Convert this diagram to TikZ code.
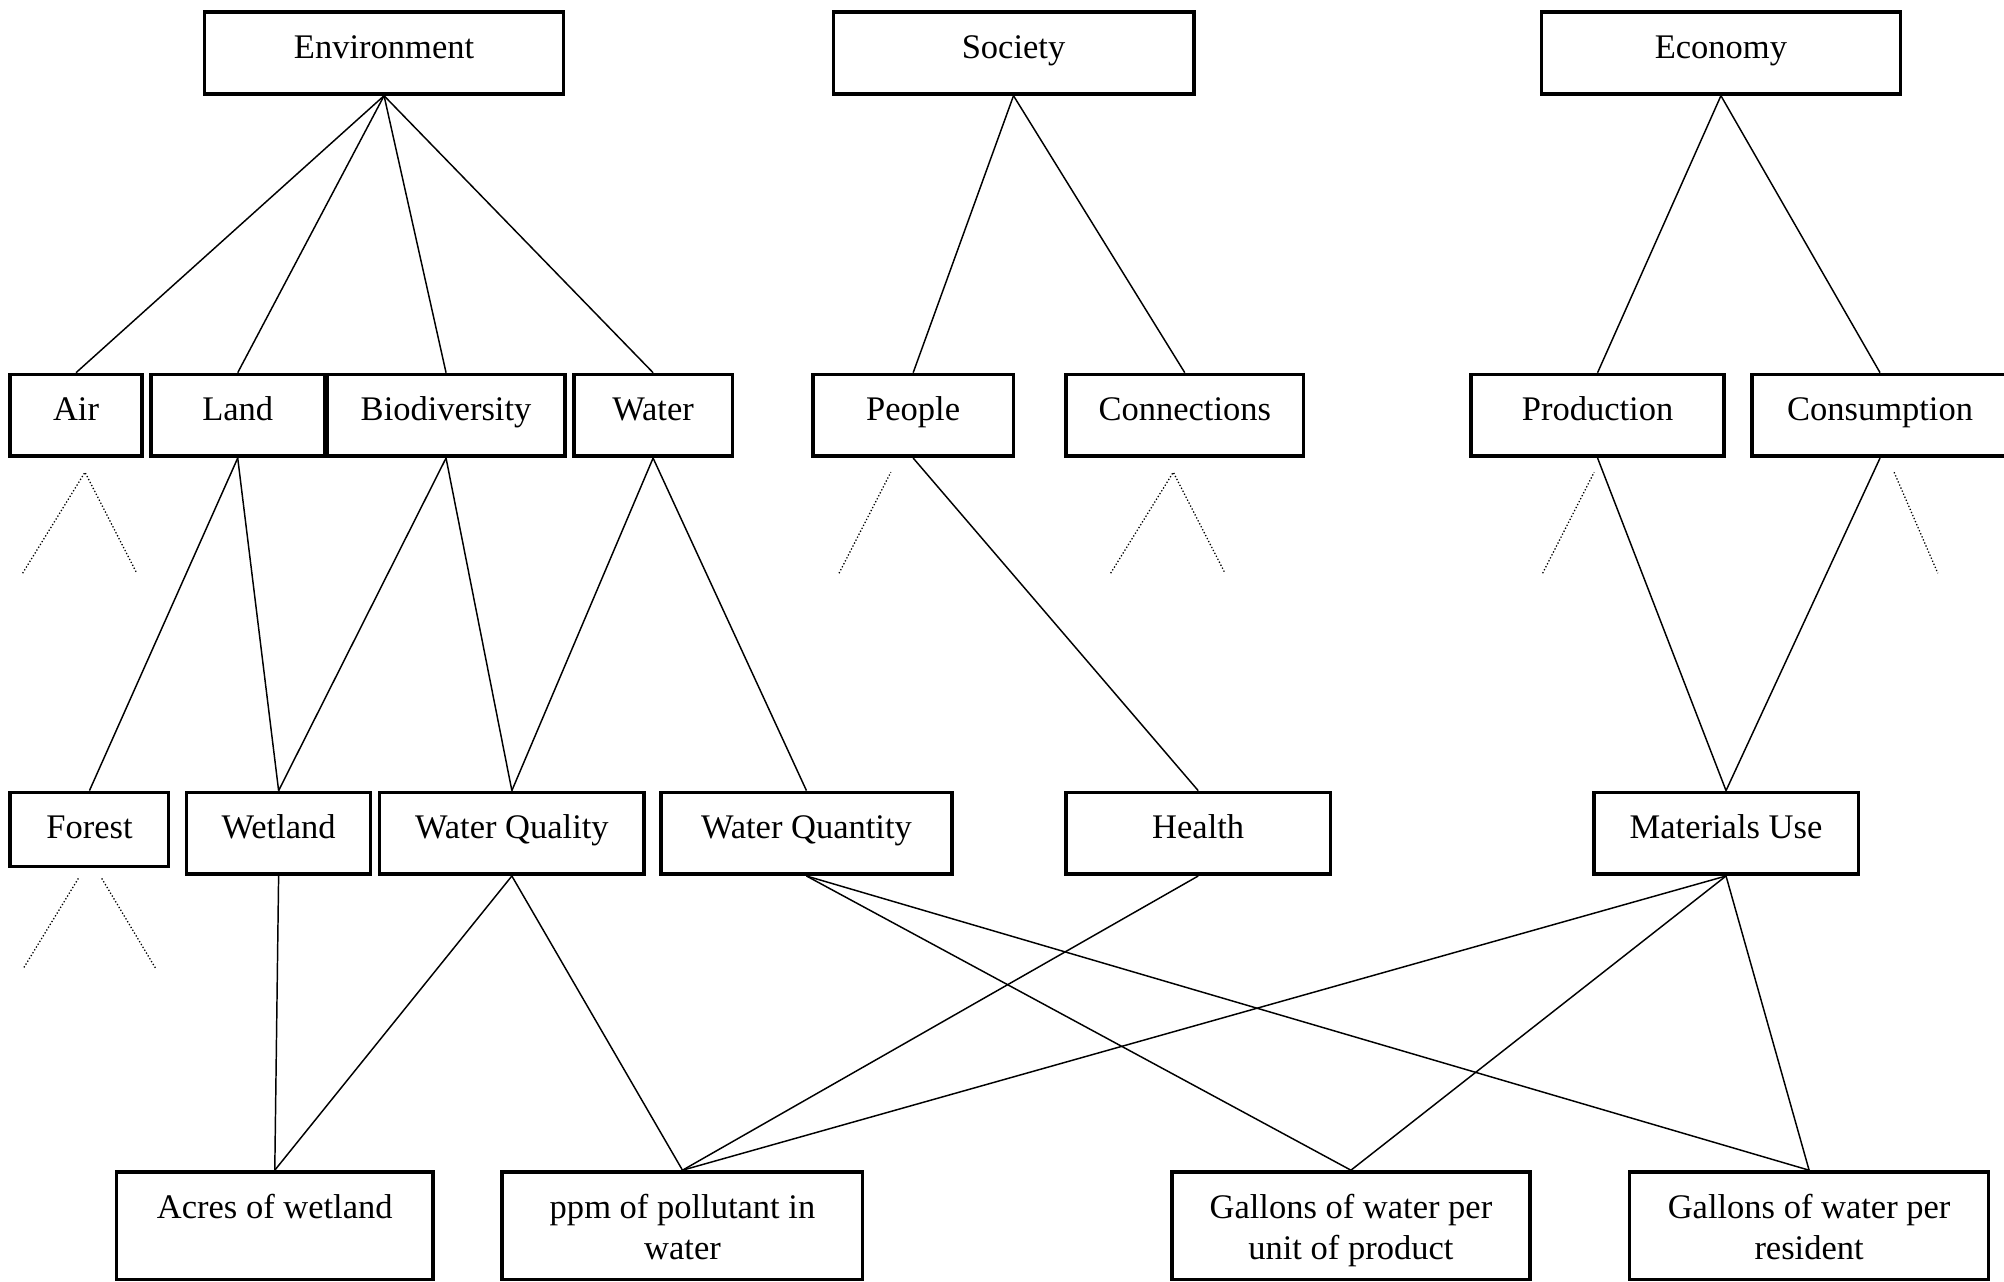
\documentclass[tikz,border=0pt]{standalone}
\usepackage{fontspec}
\setmainfont{Liberation Serif}
\begin{document}
\begin{tikzpicture}[x=1pt,y=-1pt]
\tikzset{
  box/.style={draw, line width=2.8pt, inner sep=0pt, minimum height=64pt,
              text height=18pt, text depth=10pt,
              font=\fontsize{27}{32}\selectfont},
  leafbox/.style={draw, line width=2.8pt, inner sep=0pt, minimum height=84pt},
  leaftext/.style={anchor=base, inner sep=0pt, font=\fontsize{27}{32}\selectfont},
  link/.style={line width=1.15pt},
  hint/.style={line width=1pt, dash pattern=on 1pt off 1.6pt},
}
\useasboundingbox (0,0) rectangle (1568,1003);

% dimensions
\node[box, minimum width=281pt] (env) at (300.5,41.5) {Environment};
\node[box, minimum width=282pt] (soc) at (793,41.5) {Society};
\node[box, minimum width=281pt] (eco) at (1346.5,41.5) {Economy};

% themes
\node[box, minimum width=103pt] (air)    at (59.5,325) {Air};
\node[box, minimum width=136pt] (land)   at (186,325) {Land};
\node[box, minimum width=186pt] (bio)    at (349,325) {Biodiversity};
\node[box, minimum width=124pt] (water)  at (511,325) {Water};
\node[box, minimum width=157pt] (people) at (714.5,325) {People};
\node[box, minimum width=186pt] (conn)   at (927,325) {Connections};
\node[box, minimum width=198pt] (prod)   at (1250,325) {Production};
\node[box, minimum width=200pt] (cons)   at (1471,325) {Consumption};

% issues
\node[box, minimum width=124pt, minimum height=58pt, text depth=4pt] (forest) at (70,649) {Forest};
\node[box, minimum width=144pt] (wetland) at (218,652) {Wetland};
\node[box, minimum width=207pt] (wqual)   at (400.5,652) {Water Quality};
\node[box, minimum width=228pt] (wquant)  at (631,652) {Water Quantity};
\node[box, minimum width=207pt] (health)  at (937.5,652) {Health};
\node[box, minimum width=207pt] (mat)     at (1350.5,652) {Materials Use};

% indicators
\node[leafbox, minimum width=248pt] (acres) at (215,959) {};
\node[leafbox, minimum width=282pt] (ppm)   at (534,959) {};
\node[leafbox, minimum width=280pt] (gprod) at (1057,959) {};
\node[leafbox, minimum width=281pt] (gres)  at (1415.5,959) {};
\node[leaftext] (acres-t) at (215,953.5) {Acres of wetland};
\node[leaftext] (ppm-t)   at (534,953.5) {\begin{tabular}[t]{@{}c@{}}ppm of pollutant in\\water\end{tabular}};
\node[leaftext] (gprod-t) at (1057,953.5) {\begin{tabular}[t]{@{}c@{}}Gallons of water per\\unit of product\end{tabular}};
\node[leaftext] (gres-t)  at (1415.5,953.5) {\begin{tabular}[t]{@{}c@{}}Gallons of water per\\resident\end{tabular}};

% links: dimensions to themes
\draw[link] (env.south) -- (air.north);
\draw[link] (env.south) -- (land.north);
\draw[link] (env.south) -- (bio.north);
\draw[link] (env.south) -- (water.north);
\draw[link] (soc.south) -- (people.north);
\draw[link] (soc.south) -- (conn.north);
\draw[link] (eco.south) -- (prod.north);
\draw[link] (eco.south) -- (cons.north);

% links: themes to issues
\draw[link] (land.south) -- (forest.north);
\draw[link] (land.south) -- (wetland.north);
\draw[link] (bio.south) -- (wetland.north);
\draw[link] (bio.south) -- (wqual.north);
\draw[link] (water.south) -- (wqual.north);
\draw[link] (water.south) -- (wquant.north);
\draw[link] (people.south) -- (health.north);
\draw[link] (prod.south) -- (mat.north);
\draw[link] (cons.south) -- (mat.north);

% links: issues to indicators
\draw[link] (wetland.south) -- (acres.north);
\draw[link] (wqual.south) -- (acres.north);
\draw[link] (wqual.south) -- (ppm.north);
\draw[link] (wquant.south) -- (gprod.north);
\draw[link] (wquant.south) -- (gres.north);
\draw[link] (health.south) -- (ppm.north);
\draw[link] (mat.south) -- (ppm.north);
\draw[link] (mat.south) -- (gprod.north);
\draw[link] (mat.south) -- (gres.north);

% dotted stubs for branches not shown
\draw[hint] (17.7,448.5) -- (66.5,369.5) -- (107,448.5);
\draw[hint] (656.5,448.5) -- (697,369.5);
\draw[hint] (869,448.5) -- (918,369.5) -- (958.5,448.5);
\draw[hint] (1207,448.5) -- (1247.3,369.5);
\draw[hint] (1482,369.5) -- (1516.2,448.5);
\draw[hint] (61.3,687.3) -- (18.3,757.7);
\draw[hint] (79.6,687.3) -- (121.8,757.7);
\end{tikzpicture}
\end{document}
